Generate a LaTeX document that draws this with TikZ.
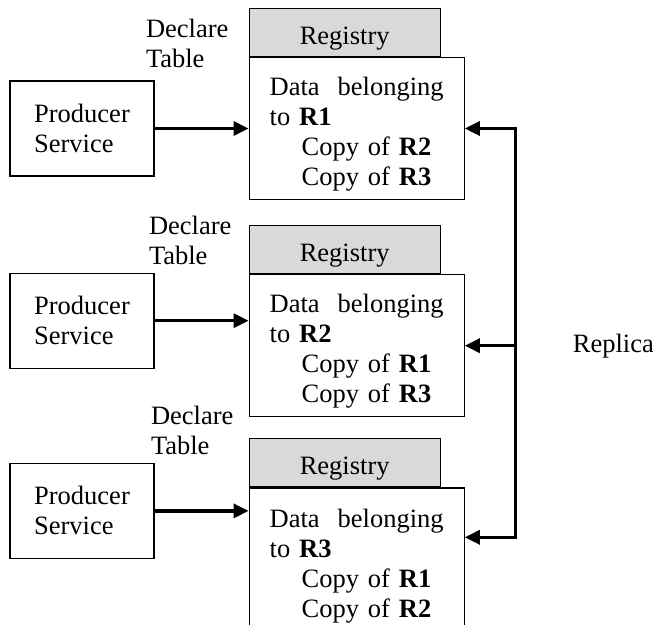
\documentclass[tikz,border=0pt]{standalone}
\usepackage{fontspec}
\setmainfont{Liberation Serif}
\usetikzlibrary{arrows.meta,positioning}
\definecolor{registrygray}{RGB}{217,217,217}

\begin{document}
\begin{tikzpicture}[
    every node/.style={font=\fontsize{13.25pt}{15pt}\selectfont},
    producer/.style={rectangle, draw=black, line width=0.6pt, minimum width=72pt, minimum height=47.5pt, align=left},
    region/.style={rectangle, draw=black, line width=0.6pt, minimum width=107.5pt, minimum height=71pt, text width=87pt, inner xsep=10pt, align=left, execute at begin node={\rule{0pt}{15pt}}},
    registry/.style={rectangle, draw=black, line width=0.6pt, fill=registrygray, minimum width=95.5pt, minimum height=24pt, text height=12pt, text depth=0pt},
    tablenote/.style={inner sep=0pt, align=left},
    arrow/.style={-{Triangle[length=7.5pt,width=7pt]}, line width=1.6pt}
]
\useasboundingbox (0,0) rectangle (326.5pt,-312.5pt);

\node[producer] (prod1) at (41pt,-64.25pt) {Producer\\Service};
\node[producer, below=48pt of prod1] (prod2) {Producer\\Service};
\node[producer, below=47pt of prod2] (prod3) {Producer\\Service};

\node[region, right=47pt of prod1] (reg1) {Data\hfill belonging\\to \textbf{R1}\\\hspace*{16pt}Copy of \textbf{R2}\\\hspace*{16pt}Copy of \textbf{R3}};
\node[region, below=37pt of reg1] (reg2) {Data\hfill belonging\\to \textbf{R2}\\\hspace*{16pt}Copy of \textbf{R1}\\\hspace*{16pt}Copy of \textbf{R3}};
\node[region, minimum height=72pt, below=35pt of reg2] (reg3) {Data\hfill belonging\\to \textbf{R3}\\\hspace*{16pt}Copy of \textbf{R1}\\\hspace*{16pt}Copy of \textbf{R2}};

\node[registry, above right=0pt and 0pt of reg1.north west] (tab1) {Registry};
\node[registry, above right=0pt and 0pt of reg2.north west] (tab2) {Registry};
\node[registry, above right=0pt and 0pt of reg3.north west] (tab3) {Registry};

\node[tablenote, above right=6pt and -4.5pt of prod1.north east] (decl1) {Declare\\Table};
\node[tablenote, above right=3.5pt and -3pt of prod2.north east] (decl2) {Declare\\Table};
\node[tablenote, above right=4pt and -2pt of prod3.north east] (decl3) {Declare\\Table};

\draw[arrow] (prod1.east) -- (prod1.east -| reg1.west);
\draw[arrow] (prod2.east) -- (prod2.east -| reg2.west);
\draw[arrow] (prod3.east) -- (prod3.east -| reg3.west);

% replica bus
\coordinate[right=25.5pt of reg2.east] (bus);
\coordinate[below=25pt of reg3.north east] (in3);
\draw[arrow] (bus) |- (reg1.east);
\draw[arrow] (bus) -- (reg2.east);
\draw[arrow] (bus) |- (in3);
\node[right=25pt of bus] (replica) {Replica};
\end{tikzpicture}
\end{document}
